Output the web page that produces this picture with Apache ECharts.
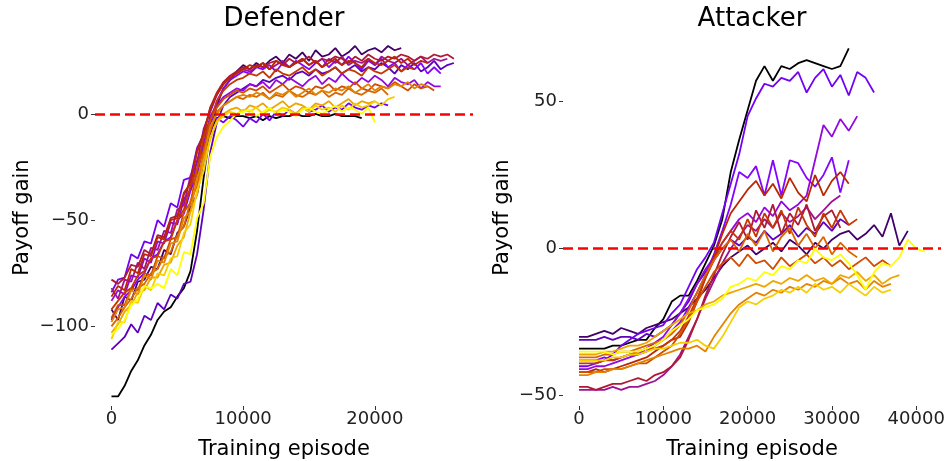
<!DOCTYPE html>
<html style="height: 100%">
<head>
    <meta charset="utf-8">
    <script src="https://cdn.jsdelivr.net/npm/echarts@6/dist/echarts.min.js"></script>
</head>
<body style="height: 100%; margin: 0; background: #fff">
    <div id="container" style="width: 950px; height: 461px"></div>
    <script type="text/javascript">
        var myChart = echarts.init(document.getElementById('container'));

        // Defender runs, one value every 500 episodes
        var defStep = 500;
        var def0 = [-133,-133,-128,-121,-116,-109,-104,-97,-93,-91,-86,-82,-74,-55,-30,-8,-2,-1,-2,-1,-1,-2,-1,-3,-1,-2,-1,-1,0,-1,-1,0,-1,-1,0,-1,-1,-1,-2];
        var def1 = [-92,-97,-86,-88,-79,-78,-72,-73,-64,-66,-56,-53,-44,-38,-22,-10,4,12,16,20,23,21,24,22,25,27,24,28,26,29,25,30,27,28,31,27,29,32,28,30,31,29,32,30,31];
        var def2 = [-111,-108,-105,-99,-103,-95,-97,-89,-92,-85,-87,-80,-79,-66,-45,-18,-4,4,8,10,12,14,13,16,15,17,18,16,19,20,18,21,19,20,22,19,21,23,20,22,21,24,22,19,23,21,24,20,22,25,21,23,24];
        var def3 = [-84,-78,-77,-66,-68,-60,-61,-50,-53,-42,-44,-31,-30,-16,-10,-3,-2,-4,-1,-3,-6,-2,-4,0,-3,1,-1,2,0,3,1,2,4,1,3,2,5,3,2,4,3,5,4];
        var def4 = [-97,-91,-86,-83,-78,-75,-68,-66,-60,-58,-50,-47,-36,-29,-14,-5,6,12,16,18,20,19,22,21,23,20,24,22,25,23,21,24,26,22,25,23,27,24,21,25,23,26,22,24,20,23,21,24,19,22,19];
        var def5 = [-88,-83,-85,-76,-77,-68,-70,-60,-61,-51,-52,-40,-36,-22,-14,-1,4,8,10,12,11,14,13,15,12,16,14,17,15,13,16,18,14,17,15,19,16,14,17,15,18,16,13,17,15,14,16,12,15,13,13];
        var def6 = [-82,-87,-78,-79,-70,-73,-63,-64,-55,-56,-45,-43,-29,-23,-7,1,9,14,17,19,21,20,22,24,21,23,25,22,24,26,23,25,22,26,24,27,23,25,24,26,23,27,25,24,26,23,25,27,24,26,25,26];
        var def7 = [-78,-80,-77,-71,-72,-64,-66,-57,-58,-49,-48,-38,-32,-17,-9,3,10,15,18,20,22,21,23,22,24,25,23,26,24,25,27,24,26,25,27,26,24,27,25,28,26,25,27,26,28,27,25,27,26,28,27,28,26];
        var def8 = [-86,-81,-83,-73,-75,-66,-67,-58,-59,-50,-49,-37,-33,-18,-10,3,9,14,17,19,21,23,22,24,21,25,23,22,24,26,23,25,22,24,26,23,25,24,22,26,24,23,25,27,24,26,23,25,24];
        var def9 = [-92,-88,-84,-82,-76,-74,-68,-67,-60,-59,-50,-45,-34,-26,-11,-3,6,11,14,16,17,19,18,20,17,21,19,18,20,22,19,21,18,20,22,19,21,20,18,22,20,19,21,23,20,22,21];
        var def10 = [-96,-90,-90,-82,-83,-75,-76,-67,-68,-59,-58,-46,-42,-26,-17,-3,3,7,9,11,10,12,11,13,10,12,14,11,13,12,10,13,12,14,11,13,12,15,12,11,14,13,12,15,13,11,14,12,13,11];
        var def11 = [-100,-96,-91,-87,-82,-80,-75,-73,-67,-65,-57,-53,-41,-34,-18,-8,1,4,6,8,7,9,8,10,7,9,8,11,9,8,10,9,11,8,10,9,12,10,9,11,10,12,9];
        var def12 = [-98,-92,-91,-83,-85,-76,-78,-69,-70,-61,-60,-49,-46,-30,-21,-6,0,4,6,8,9,8,10,9,7,10,9,11,8,10,12,9,11,10,12,11,13,10,12,14,11,13,12,14,13,15,12,14,13];
        var def13 = [-103,-99,-93,-90,-84,-83,-77,-77,-71,-70,-62,-58,-46,-38,-22,-12,-3,0,2,3,1,4,3,5,2,4,6,3,5,4,2,5,4,6,3,5,7,4,6,5,6];
        var def14 = [-106,-98,-98,-88,-89,-81,-83,-75,-76,-68,-67,-56,-52,-36,-27,-11,-4,-1,1,0,2,1,3,0,2,1,3,2,0,3,1,4,2,3,1,4,2,5,3,4,6,4,7,8];
        var def15 = [-104,-101,-97,-90,-87,-81,-82,-80,-82,-73,-76,-65,-66,-49,-42,-20,-11,-6,-3,0,1,2,-1,1,3,0,2,1,-1,2,3,1,0,2,4,1,3,2,0,3,-4];
        var defRuns = [def0, def1, def2, def3, def4, def5, def6, def7, def8, def9, def10, def11, def12, def13, def14, def15];

        // Attacker runs, one value every 1000 episodes
        var attStep = 1000;
        var att0 = [-34,-34,-34,-34,-33,-33,-32,-31,-31,-27,-24,-18,-16,-16,-11,-5,1,10,26,37,47,57,62,57,62,61,63,64,63,62,61,62,68];
        var att1 = [-30,-30,-29,-28,-29,-27,-28,-29,-27,-26,-25,-24,-22,-20,-17,-14,-10,-6,-3,-1,1,-2,0,2,-1,3,1,-2,2,0,3,5,6,3,5,8,4,12,1,6];
        var att2 = [-31,-31,-31,-30,-31,-30,-30,-31,-29,-30,-28,-26,-22,-18,-12,-8,-4,0,3,1,4,2,6,3,5,8,4,7,5,9,6,10,8];
        var att3 = [-40,-40,-39,-38,-36,-33,-31,-29,-28,-27,-26,-22,-19,-13,-7,-3,2,12,22,32,45,51,56,55,58,57,60,53,58,61,55,59,52,60,58,53];
        var att4 = [-38,-38,-38,-37,-38,-37,-36,-36,-35,-33,-31,-28,-25,-20,-15,-9,-2,6,15,26,24,28,18,30,18,30,29,24,21,25,31,19,30];
        var att5 = [-41,-41,-40,-40,-39,-38,-37,-36,-34,-32,-30,-26,-22,-17,-12,-7,-3,2,6,10,12,9,14,11,16,13,15,18,30,42,38,44,40,45];
        var att6 = [-48,-48,-48,-48,-47,-48,-47,-47,-46,-45,-43,-40,-36,-30,-24,-17,-11,-5,0,4,8,6,10,7,12,9,11,14,10,13,16,18];
        var att7 = [-47,-47,-48,-47,-46,-46,-45,-44,-45,-43,-42,-40,-37,-31,-24,-16,-9,-2,4,9,3,13,7,15,5,12,8,15,6,11,13,7];
        var att8 = [-42,-42,-41,-42,-41,-40,-39,-38,-37,-35,-33,-31,-30,-25,-18,-10,-3,5,12,16,20,23,18,22,17,24,19,16,25,18,23,26,22];
        var att9 = [-39,-39,-39,-38,-38,-37,-36,-35,-34,-34,-33,-31,-28,-23,-17,-10,-4,2,6,3,10,4,12,7,13,5,14,8,4,12,7,13,8,10];
        var att10 = [-42,-42,-42,-41,-41,-41,-40,-39,-39,-37,-35,-33,-29,-24,-18,-13,-8,-5,-3,-6,-2,-5,-4,-7,-3,-6,-4,-2,-5,-3,-6,-4,-7,-5,-3,-6,-4,-6];
        var att11 = [-37,-37,-37,-36,-36,-35,-35,-34,-33,-32,-31,-29,-26,-21,-15,-9,-4,0,3,-1,5,1,6,-1,4,7,1,5,0,4,-2,2,-1,-3];
        var att12 = [-43,-43,-42,-42,-41,-41,-40,-39,-38,-37,-36,-35,-34,-34,-33,-35,-30,-26,-22,-19,-17,-15,-16,-14,-15,-13,-14,-12,-13,-11,-12,-10,-12,-11,-14,-11,-13,-12];
        var att13 = [-36,-36,-36,-35,-35,-34,-33,-33,-32,-30,-28,-26,-24,-22,-21,-19,-18,-16,-15,-14,-13,-12,-13,-11,-12,-10,-11,-9,-11,-10,-12,-9,-10,-8,-11,-9,-12,-10,-9];
        var att14 = [-38,-38,-38,-38,-37,-37,-36,-36,-35,-34,-34,-33,-32,-32,-31,-33,-34,-30,-25,-20,-18,-19,-17,-16,-14,-15,-13,-15,-12,-14,-13,-15,-12,-14,-16,-13,-15,-14];
        var att15 = [-35,-35,-35,-35,-36,-35,-35,-35,-34,-33,-31,-28,-26,-24,-21,-20,-19,-17,-13,-12,-10,-11,-8,-9,-6,-7,-4,-5,0,-3,-4,-2,-5,-9,-14,-8,-5,-6,-3,3,0,-1];
        var attRuns = [att0, att1, att2, att3, att4, att5, att6, att7, att8, att9, att10, att11, att12, att13, att14, att15];

        var defXTicks = [0, 10000, 20000];
        var defYTicks = [-100, -50, 0];
        var attXTicks = [0, 10000, 20000, 30000, 40000];
        var attYTicks = [-50, 0, 50];

        // matplotlib "gnuplot" colormap
        function gnuplot(t) {
            var r = Math.sqrt(t), g = t * t * t, b = Math.max(0, Math.sin(2 * Math.PI * t));
            return 'rgb(' + Math.round(r * 255) + ',' + Math.round(g * 255) + ',' + Math.round(b * 255) + ')';
        }
        function minus(v) { return String(v).replace('-', '\u2212'); }

        var font = 'DejaVu Sans';
        function xAxisFor(grid, min, max, ticks) {
            return {
                type: 'value', gridIndex: grid, min: min, max: max,
                name: 'Training episode', nameLocation: 'middle', nameGap: 33,
                nameTextStyle: { fontSize: 21, color: '#000', fontFamily: font },
                axisLine: { show: false, onZero: false },
                axisTick: { show: true, length: 4, customValues: ticks, lineStyle: { color: '#333' } },
                axisLabel: { customValues: ticks, fontSize: 18, color: '#222', margin: 4, formatter: minus },
                splitLine: { show: false }
            };
        }
        function yAxisFor(grid, min, max, ticks, gap) {
            return {
                type: 'value', gridIndex: grid, min: min, max: max,
                name: 'Payoff gain', nameLocation: 'middle', nameRotate: 90, nameGap: gap,
                nameTextStyle: { fontSize: 21, color: '#000', fontFamily: font },
                axisLine: { show: false, onZero: false },
                axisTick: { show: true, length: 4, customValues: ticks, lineStyle: { color: '#333' } },
                axisLabel: { customValues: ticks, fontSize: 18, color: '#222', margin: 6, formatter: minus },
                splitLine: { show: false }
            };
        }

        var series = [];
        function addRuns(runs, step, axis) {
            runs.forEach(function (vals, k) {
                series.push({
                    type: 'line', xAxisIndex: axis, yAxisIndex: axis,
                    symbol: 'none', silent: true, z: 2,
                    lineStyle: { width: 1.8, color: gnuplot(k / (runs.length - 1)) },
                    data: vals.map(function (v, i) { return [i * step, v]; })
                });
            });
            series.push({
                type: 'line', xAxisIndex: axis, yAxisIndex: axis, data: [], z: 5,
                markLine: {
                    silent: true, symbol: 'none', label: { show: false },
                    lineStyle: { color: '#ff0000', type: [10, 5], width: 2.5 },
                    data: [{ yAxis: 0 }]
                }
            });
        }
        addRuns(defRuns, defStep, 0);
        addRuns(attRuns, attStep, 1);

        var option = {
            animation: false,
            textStyle: { fontFamily: font },
            grid: [
                { left: 95, top: 29, width: 378, height: 377, outerBoundsMode: 'none', containLabel: false },
                { left: 563, top: 29, width: 378, height: 377, outerBoundsMode: 'none', containLabel: false }
            ],
            xAxis: [
                xAxisFor(0, -1250, 27450, defXTicks),
                xAxisFor(1, -1900, 42940, attXTicks)
            ],
            yAxis: [
                yAxisFor(0, -137.5, 40, defYTicks, 62),
                yAxisFor(1, -53.5, 74.6, attYTicks, 50)
            ],
            graphic: [
                { type: 'text', x: 284, y: 19, style: { text: 'Defender', font: '26px DejaVu Sans', fill: '#000', align: 'center', verticalAlign: 'middle' } },
                { type: 'text', x: 752, y: 19, style: { text: 'Attacker', font: '26px DejaVu Sans', fill: '#000', align: 'center', verticalAlign: 'middle' } }
            ],
            series: series
        };

        myChart.setOption(option);
    </script>
</body>
</html>
